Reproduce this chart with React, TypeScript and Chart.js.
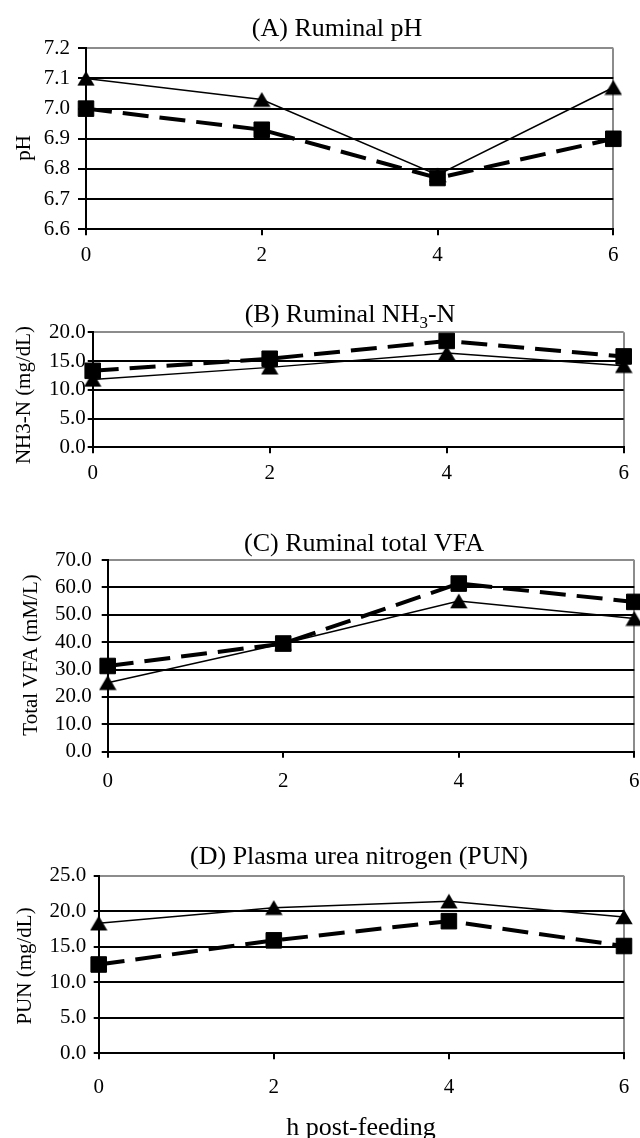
import React, { useEffect, useRef } from 'react';
import { Chart, registerables } from 'chart.js';

Chart.register(...registerables);

// ---- data ----
const hours = ['0', '2', '4', '6'];

const phTriangle = [7.1, 7.03, 6.78, 7.07];
const phSquare = [7.0, 6.93, 6.77, 6.9];
const phTicks = [6.6, 6.7, 6.8, 6.9, 7.0, 7.1, 7.2];

const nh3Triangle = [11.8, 13.9, 16.4, 14.2];
const nh3Square = [13.3, 15.4, 18.5, 15.8];
const nh3Ticks = [0, 5, 10, 15, 20];

const vfaTriangle = [25.2, 39.5, 55.0, 48.6];
const vfaSquare = [31.3, 39.5, 61.4, 54.7];
const vfaTicks = [0, 10, 20, 30, 40, 50, 60, 70];

const punTriangle = [18.3, 20.5, 21.4, 19.2];
const punSquare = [12.5, 15.9, 18.6, 15.1];
const punTicks = [0, 5, 10, 15, 20, 25];

const FONT = "'Liberation Serif', 'Times New Roman', serif";
const GRAY = '#8c8c8c';

type Seg = { text: string; sub?: boolean };
type Panel = {
  top: number; height: number;
  L: number; R: number; T: number; B: number;
  title: Seg[]; titleX: number; titleBase: number;
  yTitle: string; yTitleX: number; yTitleY: number;
  xTitle?: string; xTitleX?: number; xTitleBase?: number;
  ticks: number[]; yTickLen: number; yPad: number; xPad: number;
  tri: number[]; sq: number[];
};

const panels: Panel[] = [
  {
    top: 0, height: 290, L: 86, R: 613.3, T: 48.3, B: 229.3,
    title: [{ text: '(A) Ruminal pH' }], titleX: 337, titleBase: 36,
    yTitle: 'pH', yTitleX: 24, yTitleY: 148,
    ticks: phTicks, yTickLen: 8, yPad: 8, xPad: 8,
    tri: phTriangle, sq: phSquare,
  },
  {
    top: 290, height: 210, L: 92.7, R: 623.7, T: 332.3, B: 447.3,
    title: [{ text: '(B) Ruminal NH' }, { text: '3', sub: true }, { text: '-N' }], titleX: 350, titleBase: 322,
    yTitle: 'NH3-N (mg/dL)', yTitleX: 24, yTitleY: 395,
    ticks: nh3Ticks, yTickLen: 5, yPad: 2, xPad: 8,
    tri: nh3Triangle, sq: nh3Square,
  },
  {
    top: 500, height: 320, L: 107.7, R: 634.3, T: 560, B: 751.7,
    title: [{ text: '(C) Ruminal total VFA' }], titleX: 364, titleBase: 550.5,
    yTitle: 'Total VFA (mM/L)', yTitleX: 31.7, yTitleY: 655,
    ticks: vfaTicks, yTickLen: 6, yPad: 10, xPad: 11,
    tri: vfaTriangle, sq: vfaSquare,
  },
  {
    top: 820, height: 318, L: 98.7, R: 624, T: 875.7, B: 1053.3,
    title: [{ text: '(D) Plasma urea nitrogen (PUN)' }], titleX: 359, titleBase: 864,
    yTitle: 'PUN (mg/dL)', yTitleX: 25, yTitleY: 966,
    xTitle: 'h post-feeding', xTitleX: 361, xTitleBase: 1135,
    ticks: punTicks, yTickLen: 5, yPad: 7.5, xPad: 16,
    tri: punTriangle, sq: punSquare,
  },
];

function makeTriangleMarker(): HTMLCanvasElement {
  const c = document.createElement('canvas');
  c.width = 18;
  c.height = 16;
  const g = c.getContext('2d') as CanvasRenderingContext2D;
  g.fillStyle = '#000';
  g.beginPath();
  g.moveTo(9, 0.5);
  g.lineTo(17.7, 15.2);
  g.lineTo(0.3, 15.2);
  g.closePath();
  g.fill();
  return c;
}

function makeTextPlugin(p: Panel) {
  return {
    id: 'panelText',
    afterDraw(chart: any) {
      const ctx = chart.ctx as CanvasRenderingContext2D;
      ctx.save();
      ctx.fillStyle = '#000';
      ctx.textAlign = 'left';
      ctx.textBaseline = 'alphabetic';
      let total = 0;
      const segs = p.title.map((s) => {
        const size = s.sub ? 17 : 26;
        ctx.font = `${size}px ${FONT}`;
        const w = ctx.measureText(s.text).width;
        total += w;
        return { ...s, size, w };
      });
      let x = p.titleX - total / 2;
      const base = p.titleBase - p.top;
      for (const s of segs) {
        ctx.font = `${s.size}px ${FONT}`;
        ctx.fillText(s.text, x, base + (s.sub ? 6 : 0));
        x += s.w;
      }
      if (p.xTitle) {
        ctx.font = `26px ${FONT}`;
        ctx.textAlign = 'center';
        ctx.fillText(p.xTitle, p.xTitleX as number, (p.xTitleBase as number) - p.top);
      }
      ctx.translate(p.yTitleX, p.yTitleY - p.top);
      ctx.rotate(-Math.PI / 2);
      ctx.font = `21px ${FONT}`;
      ctx.textAlign = 'center';
      ctx.textBaseline = 'middle';
      ctx.fillText(p.yTitle, 0, 0);
      ctx.restore();
    },
  };
}

function PanelChart({ p }: { p: Panel }) {
  const ref = useRef<HTMLCanvasElement | null>(null);
  useEffect(() => {
    if (!ref.current) return;
    const yMin = p.ticks[0];
    const yMax = p.ticks[p.ticks.length - 1];
    const tri = makeTriangleMarker();
    const chart = new Chart(ref.current, {
      type: 'line',
      data: {
        labels: hours,
        datasets: [
          {
            data: p.tri,
            borderColor: '#000',
            borderWidth: 1.5,
            pointStyle: tri,
            pointRadius: 9,
            pointBackgroundColor: '#000',
            pointBorderColor: '#000',
            tension: 0,
            clip: false as any,
          },
          {
            data: p.sq,
            borderColor: '#000',
            borderWidth: 4,
            borderDash: [26, 11],
            pointStyle: 'rect',
            pointRadius: 11,
            pointBackgroundColor: '#000',
            pointBorderColor: '#000',
            pointBorderWidth: 1,
            tension: 0,
            clip: false as any,
          },
        ],
      },
      options: {
        animation: false,
        responsive: false,
        devicePixelRatio: 1,
        events: [],
        layout: {
          autoPadding: false,
          padding: { left: 0, top: p.T - p.top, right: 640 - p.R, bottom: 0 },
        },
        plugins: {
          legend: { display: false },
          title: { display: false },
          tooltip: { enabled: false },
        },
        scales: {
          x: {
            type: 'category',
            offset: false,
            afterFit: (scale: any) => {
              scale.height = p.top + p.height - p.B;
              scale.paddingLeft = 0;
              scale.paddingRight = 0;
            },
            border: { display: true, color: '#000', width: 2 },
            grid: {
              drawOnChartArea: true,
              drawTicks: true,
              tickLength: 6,
              lineWidth: 2,
              color: (c: any) => (c.index === hours.length - 1 ? GRAY : 'rgba(0,0,0,0)'),
              tickColor: '#000',
            },
            ticks: {
              color: '#000',
              font: { family: FONT, size: 21 },
              padding: p.xPad,
              maxRotation: 0,
              autoSkip: false,
            },
          },
          y: {
            type: 'linear',
            min: yMin,
            max: yMax,
            afterFit: (scale: any) => {
              scale.width = p.L;
              scale.paddingTop = 0;
              scale.paddingBottom = 0;
            },
            afterBuildTicks: (scale: any) => { scale.ticks = p.ticks.map((v) => ({ value: v })); },
            border: { display: true, color: '#000', width: 2 },
            grid: {
              drawTicks: true,
              tickLength: p.yTickLen,
              lineWidth: 2,
              color: (c: any) => (c.tick && Math.abs(c.tick.value - yMax) < 1e-9 ? GRAY : '#000'),
              tickColor: '#000',
            },
            ticks: {
              color: '#000',
              font: { family: FONT, size: 21 },
              padding: p.yPad,
              autoSkip: false,
              callback: (v: any) => Number(v).toFixed(1),
            },
          },
        },
      },
      plugins: [makeTextPlugin(p)],
    } as any);
    return () => chart.destroy();
  }, [p]);
  return (
    <canvas
      ref={ref}
      width={640}
      height={p.height}
      style={{ position: 'absolute', left: 0, top: p.top, width: 640, height: p.height }}
    />
  );
}

export default function App() {
  return (
    <div style={{ position: 'absolute', left: 0, top: 0, width: 640, height: 1138, background: '#fff', overflow: 'hidden' }}>
      {panels.map((p, i) => (
        <PanelChart key={i} p={p} />
      ))}
    </div>
  );
}
